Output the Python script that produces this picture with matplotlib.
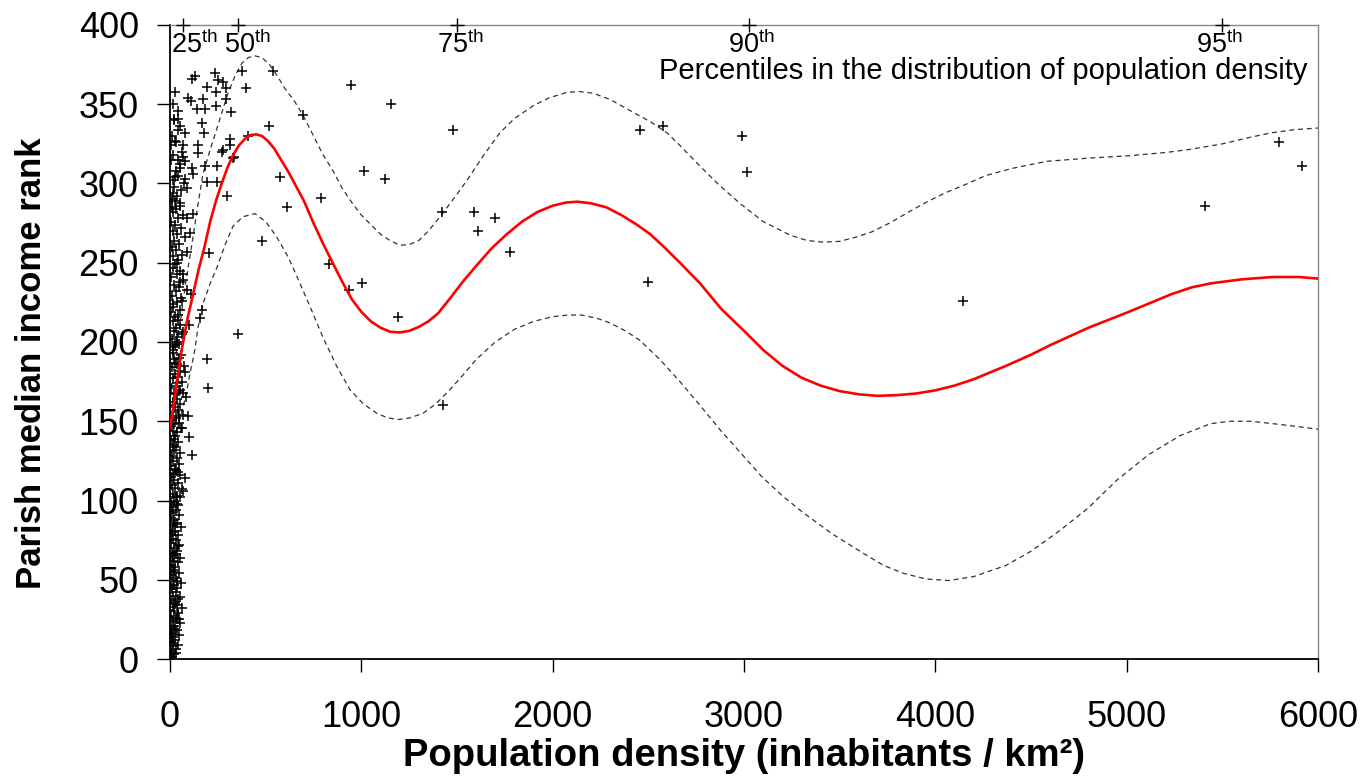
# Parish median income rank vs population density, with smoothed fit and bands

import numpy as np
import matplotlib.pyplot as plt

plt.rcParams['font.family'] = ['Liberation Sans', 'DejaVu Sans']
plt.rcParams['mathtext.fontset'] = 'custom'
plt.rcParams['mathtext.rm'] = 'Liberation Sans'

# scattered parishes away from the dense column (density, rank)
spread_pts = [
    (946, 362), (1155, 350), (695, 343), (1479, 334), (2456, 334), (2576, 336),
    (1014, 308), (1123, 303), (789, 291), (1421, 282), (1588, 282), (1698, 278),
    (1609, 270), (1776, 257), (2497, 238), (831, 249), (1003, 237), (935, 233),
    (1191, 216), (1426, 160),
    (2991, 330), (3016, 307), (4143, 226), (5407, 286), (5795, 326), (5914, 311),
    (538, 371), (376, 371), (397, 360), (131, 368), (115, 366), (235, 370),
    (251, 365), (277, 364), (292, 360), (26, 358), (94, 354), (110, 352),
    (172, 353), (240, 358), (292, 353), (193, 361), (141, 347), (183, 347),
    (240, 349), (319, 345), (167, 338), (178, 332), (313, 328), (313, 324),
    (272, 320), (146, 324), (146, 319), (68, 317), (21, 341), (42, 341),
    (42, 334), (517, 336), (408, 330), (329, 316), (78, 332), (26, 327),
    (3, 324), (68, 324), (277, 321), (334, 317), (3, 315), (42, 315),
    (78, 314), (115, 310), (52, 310), (120, 306), (26, 304), (78, 303),
    (183, 311), (245, 311), (193, 301), (245, 301), (89, 297), (16, 294),
    (26, 289), (52, 288), (10, 285), (298, 292), (575, 304), (611, 285),
    (481, 264), (204, 256), (355, 205), (167, 220), (157, 215), (99, 211),
    (110, 230), (63, 226), (120, 281), (89, 278), (104, 269), (89, 257),
    (37, 250), (68, 243), (52, 238), (89, 233), (16, 222), (42, 217),
    (68, 206), (37, 200), (16, 197),
    (193, 189), (199, 171), (78, 181), (94, 153), (63, 146), (99, 140),
    (115, 129), (52, 170), (68, 168), (37, 174), (16, 195), (26, 187),
    (78, 114), (68, 106), (52, 102), (63, 32), (47, 25),
]

# dense column of low-density parishes
column_pts = [
    (9, 1), (22, 3), (5, 5), (32, 6), (14, 8), (40, 9), (7, 11), (27, 12), (18, 14),
    (47, 15), (11, 17), (34, 18), (4, 20), (23, 21), (54, 23), (14, 24), (31, 26),
    (7, 27), (43, 29), (20, 30), (13, 33), (36, 34), (25, 36), (5, 37), (50, 39),
    (16, 40), (29, 42), (9, 44), (38, 45), (22, 47), (59, 48), (13, 50), (32, 51),
    (4, 53), (45, 54), (18, 56), (27, 58), (7, 59), (40, 61), (14, 62), (52, 64),
    (23, 65), (11, 67), (34, 68), (20, 70), (47, 72), (5, 73), (29, 75), (16, 76),
    (41, 78), (9, 80), (25, 81), (56, 83), (14, 84), (36, 86), (22, 88), (7, 89),
    (49, 91), (18, 93), (31, 94), (11, 96), (43, 97), (23, 99), (4, 100), (34, 103),
    (16, 104), (63, 107), (27, 108), (9, 110), (40, 111), (20, 113), (50, 116),
    (13, 117), (32, 119), (25, 120), (5, 122), (45, 123), (18, 125), (36, 127),
    (11, 128), (54, 130), (23, 132), (31, 134), (14, 135), (43, 137), (7, 138),
    (27, 141), (38, 143), (16, 144), (59, 146), (22, 148), (49, 149), (9, 151),
    (32, 152), (68, 154), (18, 156), (41, 157), (25, 159), (54, 161), (13, 162),
    (36, 164), (81, 165), (22, 167), (47, 169), (5, 171), (31, 172), (63, 175),
    (16, 177), (40, 178), (25, 180), (50, 182), (11, 184), (72, 185), (34, 186),
    (20, 189), (45, 190), (58, 192), (14, 193), (27, 198), (49, 199), (9, 202),
    (38, 203), (65, 205), (22, 207), (32, 209), (54, 211), (14, 213), (43, 214),
    (25, 216), (5, 219), (50, 220), (18, 224), (36, 225), (59, 228), (11, 229),
    (29, 232), (45, 235), (20, 236), (68, 239), (7, 241), (34, 243), (54, 245),
    (16, 247), (25, 249), (41, 252), (13, 254), (63, 255), (32, 258), (9, 260),
    (49, 262), (22, 264), (76, 266), (38, 268), (14, 270), (56, 272), (27, 274),
    (5, 276), (43, 278), (67, 280), (18, 282), (32, 284), (50, 286), (11, 290),
    (36, 292), (59, 296), (23, 298), (72, 300), (14, 302), (43, 305), (29, 308),
    (54, 312), (18, 318), (63, 320), (32, 326), (11, 330), (50, 336), (22, 340),
    (40, 346), (14, 350),
    (2, 2), (30, 4), (17, 10), (3, 16), (28, 19), (38, 25), (2, 31), (26, 35),
    (44, 38), (3, 46), (35, 49), (19, 55), (2, 63), (30, 66), (40, 71), (3, 79),
    (28, 85), (2, 92), (38, 98), (29, 102), (3, 115), (40, 118), (2, 131),
    (22, 139), (3, 147), (46, 153), (2, 160), (30, 168),
]

# smoothed fit (red) and its bands
fit_x = [0, 15, 35, 61, 90, 122, 150, 180, 210, 240, 270, 300, 330, 360, 390,
         420, 450, 480, 510, 545, 580, 620, 660, 700, 750, 800, 850, 900, 950,
         1000, 1050, 1100, 1150, 1200, 1250, 1300, 1350, 1400, 1460, 1530, 1600,
         1680, 1760, 1840, 1920, 2000, 2070, 2130, 2200, 2280, 2360, 2440, 2510,
         2590, 2665, 2770, 2880, 3000, 3100, 3200, 3300, 3400, 3500, 3600, 3700,
         3800, 3900, 4000, 4100, 4200, 4370, 4500, 4600, 4800, 5000, 5100, 5230,
         5340, 5440, 5600, 5760, 5900, 6000]
fit_y = [146, 157, 174, 195, 214, 231, 246, 260, 276, 289, 300, 310, 318, 324,
         328, 330.5, 331, 330, 327, 322, 315, 307, 298, 289, 275, 262, 250, 238,
         227, 219, 213, 209, 206.5, 206, 207, 209.5, 213, 218, 227, 238, 248,
         259, 268, 276, 282, 286, 288, 288.5, 287.5, 285, 280, 274, 268, 259,
         250, 237, 221, 207, 195, 185, 177.5, 172.5, 169, 167, 166, 166.5, 167.5,
         169.5, 172.5, 176.5, 185, 192, 198, 209, 218.5, 223.5, 230, 234.5, 237,
         239.5, 241, 241, 240]

upper_x = [0, 40, 80, 120, 141, 172, 209, 251, 303, 340, 376, 410, 444, 480,
           520, 560, 600, 650, 695, 750, 800, 852, 900, 950, 1000, 1050, 1100,
           1150, 1202, 1250, 1300, 1350, 1411, 1480, 1552, 1640, 1724, 1800,
           1897, 1980, 2074, 2140, 2210, 2300, 2419, 2510, 2597, 2665, 2753,
           2870, 2983, 3100, 3239, 3330, 3412, 3500, 3580, 3668, 3760, 3860,
           3950, 4049, 4150, 4263, 4400, 4582, 4800, 5010, 5200, 5329, 5500,
           5640, 5757, 5880, 6000]
upper_y = [165, 200, 236, 266, 283, 306, 321, 337, 357, 368, 376, 379.5,
           380.5, 379.5, 375, 368, 360, 352, 343, 330, 318, 308, 297, 288, 280,
           274, 268, 264, 261, 261.5, 264, 270, 279, 290, 302, 318, 332, 341,
           349, 354, 357.5, 358, 357, 353, 345, 339, 332, 324, 313, 299, 287,
           276, 267.5, 264, 263, 263.5, 266, 269.5, 275, 282, 288, 294, 299,
           305, 309.5, 314, 316, 317.5, 319.5, 321.5, 325, 329, 332, 334, 335]

lower_x = [0, 30, 68, 89, 104, 120, 131, 146, 172, 210, 245, 290, 329, 380,
           444, 500, 559, 620, 679, 740, 799, 870, 940, 1010, 1081, 1130, 1186,
           1250, 1322, 1390, 1463, 1530, 1600, 1700, 1800, 1900, 2000, 2080,
           2150, 2230, 2300, 2380, 2456, 2560, 2665, 2770, 2879, 2990, 3093,
           3200, 3302, 3460, 3626, 3730, 3835, 3950, 4070, 4200, 4368, 4500,
           4650, 4796, 4950, 5115, 5280, 5439, 5540, 5648, 5800, 6000]
lower_y = [128, 142, 159, 170, 180, 189, 196, 209, 224, 237, 247, 262, 273,
           279, 281, 276, 266, 253, 237, 220, 203, 185, 170, 161, 155, 152.5,
           151, 152, 155, 161, 170, 179, 189, 200, 208, 213, 216, 217, 217, 215,
           212, 207, 201, 189, 175, 160, 144, 129, 115, 103, 93, 79, 66.5, 59,
           54, 50.5, 49.5, 52, 59, 68, 81, 95, 113, 129, 141, 148.5, 150, 150,
           148, 145]

# percentiles of the density distribution, marked on the top axis
pct_labels = ['25', '50', '75', '90', '95']
pct_x = [68, 354, 1498, 3025, 5500]
pct_label_dx = [8, 7, 3, 2, -2]   # label nudges (points)

fig = plt.figure(figsize=(13.69, 7.81), dpi=100)
ax = fig.add_axes([0.1242, 0.1562, 0.8386, 0.8118])

sx, sy = zip(*(spread_pts + column_pts))
ax.plot(sx, sy, '+', color='black', ms=7, mew=1.1, zorder=3)

ax.plot(fit_x, fit_y, color='#ff0000', lw=1.9, zorder=4)
ax.plot(upper_x, upper_y, color='#333333', lw=0.9, ls=(0, (4, 3)), zorder=2)
ax.plot(lower_x, lower_y, color='#333333', lw=0.9, ls=(0, (4, 3)), zorder=2)

ax.set_xlim(0, 6000)
ax.set_ylim(0, 400)
ax.set_xticks(np.arange(0, 6001, 1000))
ax.set_yticks(np.arange(0, 401, 50))
ax.tick_params(axis='both', direction='out', length=9.5, width=1.0, labelsize=26)
ax.tick_params(axis='x', pad=20)
ax.tick_params(axis='y', pad=13)

for side in ['left', 'bottom']:
    ax.spines[side].set_color('black')
    ax.spines[side].set_linewidth(1.3)
for side in ['top', 'right']:
    ax.spines[side].set_color('#888888')
    ax.spines[side].set_linewidth(1.0)

ax.set_xlabel('Population density (inhabitants / km²)', fontsize=27.5,
              fontweight='bold', labelpad=2)
ax.set_ylabel('Parish median income rank', fontsize=25, fontweight='bold')
ax.yaxis.set_label_coords(-0.106, 0.467)

# percentile markers on the top spine
ax.plot(pct_x, [400] * len(pct_x), '+', color='black', ms=10, mew=1.0,
        clip_on=False, zorder=5)
for lab, px, dx in zip(pct_labels, pct_x, pct_label_dx):
    ax.annotate(lab + r'$^{\mathrm{th}}$', xy=(px, 400), xytext=(dx, -20.5),
                textcoords='offset points', ha='center', va='baseline',
                fontsize=19.5)

ax.text(0.991, 0.915, 'Percentiles in the distribution of population density',
        transform=ax.transAxes, ha='right', va='baseline', fontsize=21)

fig.savefig('out.png', dpi=100)
